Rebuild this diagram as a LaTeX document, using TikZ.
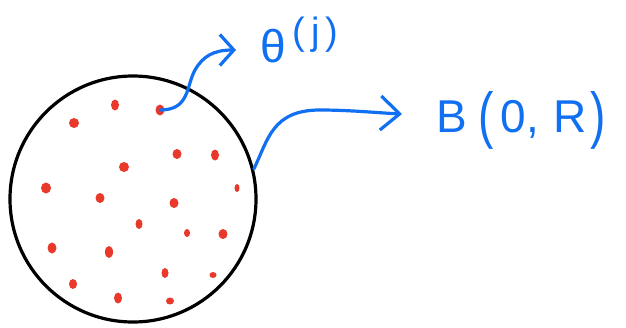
\documentclass[tikz,border=0pt]{standalone}
\usepackage{fontspec}
\setmainfont{Liberation Sans}
\usepackage{graphicx}
\usepackage{tikz}
\usetikzlibrary{arrows.meta,positioning,calc,shapes.geometric}
\definecolor{inkBlue}{HTML}{1170F2}
\definecolor{inkRed}{HTML}{E8392A}
\newcommand{\tallparen}[1]{\raisebox{-4pt}{\scalebox{1}[1.35]{#1}}}
\tikzset{
    ball/.style={circle,draw=black,line width=3.2pt,minimum size=246pt,inner sep=0pt},
    sample/.style={ellipse,fill=inkRed,inner sep=0pt},
    pointer/.style={line width=3.2pt,inkBlue,line cap=round,line join=round},
    label/.style={inkBlue,inner sep=0pt,anchor=west}
}
\begin{document}
\begin{tikzpicture}[x=1pt,y=-1pt]
  \useasboundingbox (0,0) rectangle (626,327);

  % The ball
  \node[ball] (ballR) at (133,199) {};

  % Samples inside the ball
  \foreach \px/\py/\w/\h [count=\i] in {
      115/105/8/11, 160/110/9/11, 74/123/10/10, 177/154/9/10, 215/155/8/11,
      124/167/10/10, 46/188/10/11, 237/188/5/8, 100/198/9/10, 174/203/9/10,
      139/224/7/10, 187/233/6/8, 223/234/9/10, 52/248/9/11, 109/252/8/12,
      165/273/7/10, 213/275/7/6, 73/284/8/10, 118/298/8/11, 170/301/8/7}
    \node[sample,minimum width=\w pt,minimum height=\h pt] (s\i) at (\px,\py) {};

  % Labels
  \node[label] (theta) at (260,40) {\fontsize{46}{46}\selectfont θ\raisebox{18pt}{\fontsize{38}{38}\selectfont\,(\,j\,)}};
  \node[label] (ballname) at (436,120) {\fontsize{46}{46}\selectfont B\hspace{12pt}\tallparen{(}\hspace{6pt}0\hspace{1pt},\hspace{14pt}R\hspace{4pt}\tallparen{)}};

  % Pointers
  \draw[pointer,-{Straight Barb[length=14pt,width=31pt,line width=3.2pt]}]
    (s2.center) .. controls (190,110) and (186,86) .. (195,70)
    .. controls (203,56) and (214,50) .. (236,50);
  \draw[pointer,-{Straight Barb[length=19pt,width=34pt,line width=3.2pt]}]
    (ballR.14) .. controls (268,140) and (272,110) .. (320,110)
    .. controls (350,110) and (380,113) .. (402,114);
\end{tikzpicture}
\end{document}
